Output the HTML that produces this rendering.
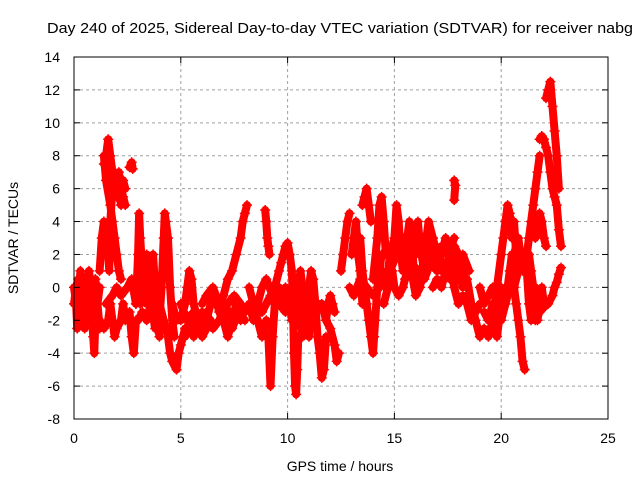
<!DOCTYPE html>
<html><head><meta charset="utf-8"><style>
body{margin:0;background:#fff}
svg text{font-family:"Liberation Sans",sans-serif;font-size:14px;fill:#000}
</style></head><body>
<svg id="chart" width="640" height="480" viewBox="0 0 640 480" xmlns="http://www.w3.org/2000/svg">
<rect width="640" height="480" fill="#fff"/>
<text x="340" y="33" text-anchor="middle" textLength="586" lengthAdjust="spacingAndGlyphs" style="font-size:14.5px">Day 240 of 2025, Sidereal Day-to-day VTEC variation (SDTVAR) for receiver nabg</text>
<text x="340" y="471" text-anchor="middle">GPS time / hours</text>
<text transform="translate(18,238) rotate(-90)" text-anchor="middle">SDTVAR / TECUs</text>
<g id="grid"></g>
<g id="marks"></g>
<rect x="74" y="57" width="534" height="362" fill="none" stroke="#000" stroke-width="1"/>
<g id="ticks"></g>
</svg>
<script>
const xTicks=[0,5,10,15,20,25];
const yTicks=[-8,-6,-4,-2,0,2,4,6,8,10,12,14];
const arcA=[[0,0],[0.1,-1],[0.15,-2.5],[0.2,-1],[0.3,1],[0.35,0.5],[0.4,-1],[0.5,-2],[0.6,-1.5],[0.7,0],[0.8,-1],[0.9,-3],[0.95,-4],[1.0,-2],[1.1,-1],[1.2,0]];
const arcB=[[0,-1],[0.1,0],[0.2,0.5],[0.3,-0.5],[0.4,-2],[0.5,-2.5],[0.6,0],[0.7,1],[0.8,0],[0.9,-1],[1.0,0.5],[1.1,-1],[1.2,-2.5]];
const arcC=[[1.2,1],[1.3,3],[1.4,4],[1.5,3],[1.6,2],[1.65,1],[1.7,4],[1.8,6]];
const arcD=[[1.4,7.5],[1.5,8],[1.6,9],[1.7,8],[1.8,7],[1.9,6],[2.0,6.5],[2.1,7],[2.2,6],[2.3,5.5],[2.4,5]];
const arcE=[[1.4,8],[1.5,6.5],[1.7,5],[1.8,4],[1.9,3],[2.0,2],[2.1,1],[2.2,0.5]];
const arcF=[[2.6,7.3],[2.7,7.6],[2.75,7.2]];
const arcG=[[1.2,-2],[1.4,-2.5],[1.6,-2],[1.7,-1],[1.8,-2],[1.9,-3],[2.0,-2.5],[2.2,-2],[2.3,-1],[2.4,-2],[2.6,-1.5],[2.7,-3],[2.8,-4],[2.9,-2]];
const arcH=[[1.5,-1],[1.8,-0.5],[2.0,0],[2.2,-0.5],[2.5,0],[2.7,0.5],[2.9,-1]];
const arcI=[[2.9,-1],[3.0,2],[3.05,4.5],[3.1,3],[3.2,1],[3.3,0],[3.4,-1],[3.5,0],[3.6,1],[3.7,0],[3.8,-1],[3.9,-2],[4.0,-3]];
const arcJ=[[3.1,-1],[3.2,0],[3.3,1],[3.4,2],[3.5,1.5],[3.6,1],[3.7,2],[3.8,0],[3.9,-1],[4.0,-2],[4.1,0],[4.2,3],[4.25,4.5],[4.3,4],[4.4,3],[4.5,0],[4.6,-2],[4.7,-3]];
const arcK=[[3.0,-2],[3.2,-1.5],[3.4,-2],[3.6,-1],[3.8,-2.5],[4.0,-1],[4.2,-2],[4.4,-3],[4.5,-4],[4.6,-4.5],[4.8,-5],[4.9,-4],[5.0,-3.5],[5.1,-3],[5.2,-2.5]];
const arcL=[[4.6,-1],[4.8,-2],[5.0,-2],[5.2,-1],[5.3,0],[5.4,1],[5.5,0.5],[5.6,-1],[5.8,-2],[6.0,-3],[6.2,-2.5],[6.4,-2]];
const arcM=[[5.2,-3],[5.4,-2],[5.6,-3],[5.8,-2.5],[6.0,-1.5],[6.2,-2],[6.4,-1],[6.6,-0.5],[6.8,-1.5],[7.0,-2],[7.2,-3],[7.4,-2],[7.6,-1],[7.8,-2]];
const arcN=[[6.0,-1],[6.2,-0.5],[6.5,0],[6.8,-1],[7.0,-0.5],[7.2,0.5],[7.4,1],[7.6,2],[7.8,3],[7.9,4],[8.0,4.5],[8.1,5]];
const arcO=[[7.2,-1],[7.5,-0.5],[7.8,-1],[8.0,-1.5],[8.2,-1],[8.4,-2],[8.6,-1],[8.8,-1.5],[9.0,-1],[9.2,-0.5]];
const arcP=[[8.2,0],[8.4,-1],[8.6,-2],[8.8,-3],[9.0,-2],[9.1,-3],[9.2,-6],[9.3,-3],[9.4,-1],[9.5,-0.5],[9.6,0]];
const arcQ=[[8.95,4.7],[9.0,4],[9.05,3],[9.1,2.5],[9.15,2]];
const arcR=[[9.4,0],[9.6,1],[9.7,1.5],[9.8,2],[9.9,2.5],[10.0,2.7],[10.1,2],[10.2,1],[10.25,-1],[10.3,-4],[10.35,-6],[10.4,-6.5],[10.45,-5],[10.5,-3]];
const arcS=[[9.8,-1],[9.9,0],[10.0,-0.5],[10.1,-1],[10.2,-2],[10.4,-1],[10.5,0],[10.6,1],[10.7,0],[10.8,-1],[10.9,-2],[11.0,-3],[11.1,-1]];
const arcT=[[10.5,-1],[10.6,-2],[10.7,-3],[10.8,-2],[10.9,-1],[11.0,0],[11.1,1],[11.2,0.5],[11.3,-1],[11.4,-3],[11.5,-4],[11.6,-5.5],[11.7,-5],[11.8,-3]];
const arcU=[[11.2,-2],[11.4,-1],[11.6,-1],[11.8,-2],[11.9,-1],[12.0,-0.5],[12.1,-1],[12.2,-1.5]];
const arcV=[[11.8,-2],[12.0,-2.5],[12.2,-3.5],[12.3,-4.5],[12.4,-4]];
const arcW=[[12.5,1],[12.6,2],[12.7,3],[12.8,4],[12.9,4.5]];
const arcX=[[13.0,2],[13.1,3],[13.2,4],[13.3,2],[13.4,1],[13.5,-1]];
const arcY=[[13.5,5],[13.6,5.5],[13.7,6],[13.8,5],[13.9,4]];
const arcZ=[[13.4,3],[13.5,1],[13.6,0],[13.7,-1],[13.8,-2],[13.9,-3],[14.0,-4],[14.05,-3],[14.1,-2],[14.2,0],[14.3,1],[14.4,2]];
const arcAA=[[14.0,0.5],[14.2,3],[14.3,5],[14.4,5.5],[14.5,4],[14.6,2]];
const arcBB=[[14.4,1],[14.6,0],[14.8,2],[15.0,3],[15.1,5],[15.2,4],[15.3,2],[15.4,1],[15.5,2],[15.6,3],[15.7,4],[15.8,3.5],[15.9,1],[16.0,0]];
const arcCC=[[14.5,-1],[14.7,0],[14.9,1],[15.0,0],[15.2,-0.5],[15.4,0],[15.6,1],[15.8,2],[16.0,3],[16.1,4],[16.2,2.5],[16.4,1],[16.6,2],[16.8,3],[17.0,2],[17.2,1]];
const arcDD=[[15.8,1],[16.0,-0.5],[16.2,0],[16.4,2],[16.6,4],[16.8,3],[17.0,1],[17.2,2],[17.4,3],[17.6,1.5],[17.8,2.5],[18.0,2],[18.2,1],[18.4,0]];
const arcEE=[[16.8,0],[17.0,0.5],[17.2,0],[17.4,1],[17.6,2],[17.8,0],[18.0,-1],[18.2,-0.5],[18.4,-1],[18.6,-2],[18.8,-1.5],[19.0,-1]];
const arcFF=[[18.0,1],[18.2,0],[18.4,0.5],[18.6,-1],[18.8,-2],[19.0,-3],[19.2,-2.5],[19.4,-3],[19.6,-2],[19.8,-3],[20.0,-1]];
const arcGG=[[19.0,0],[19.2,-1],[19.4,-0.5],[19.6,0],[19.8,-1],[20.0,0]];
const arcHH=[[19.6,-2],[19.8,0],[20.0,2],[20.1,3],[20.2,4],[20.3,5],[20.4,4.5],[20.5,3],[20.6,4],[20.7,2]];
const arcII=[[20.0,-2],[20.2,-1],[20.4,1],[20.5,2],[20.6,0],[20.7,-1],[20.8,-2],[20.9,-3],[21.0,-4.5],[21.1,-5]];
const arcJJ=[[20.6,0],[20.8,1],[21.0,2],[21.2,1],[21.3,-1],[21.4,-2],[21.5,-1],[21.6,0],[21.7,-1.5]];
const arcKK=[[21.2,2],[21.3,3],[21.4,4],[21.5,5],[21.6,6],[21.7,7],[21.8,8]];
const arcLL=[[21.6,3],[21.8,4.5],[21.9,4],[22.0,3],[22.1,2.5]];
const arcMM=[[21.8,9],[21.9,9.2],[22.0,9],[22.1,8.5],[22.2,8],[22.3,7],[22.4,6],[22.5,5.5],[22.6,5],[22.7,3.5],[22.8,2.5]];
const arcNN=[[22.1,11.5],[22.2,12],[22.3,12.5],[22.4,11],[22.5,9.5],[22.6,8],[22.7,6]];
const arcOO=[[21.6,-2],[21.8,-1.5],[22.0,-1.2],[22.2,-1],[22.4,-0.5],[22.5,0],[22.6,0.3],[22.7,0.8],[22.8,1.2]];
const arcPP=[[21.3,2],[21.4,1],[21.5,0],[21.6,-1],[21.7,-2],[21.8,-1],[21.9,0],[22.0,-1]];
const arcQQ=[[17.8,6.5],[17.85,6.2],[17.8,5.3]];
const arcRR=[[1.7,6],[1.8,5.5],[1.9,7],[2.0,5.5],[2.1,6],[2.2,5],[2.3,6.5],[2.4,6]];
const arcSS=[[5.0,-1],[5.3,-2],[5.6,-1.5],[5.9,-2.5],[6.2,-1.5],[6.5,-2.5],[6.8,-2],[7.1,-1],[7.4,-2.5],[7.7,-1.5],[8.0,-2]];
const arcTT=[[15.5,0.5],[15.8,1.5],[16.1,1],[16.4,0.5],[16.7,1.5],[17.0,1],[17.3,1.5],[17.6,0.5],[17.9,1.5],[18.2,2],[18.5,1]];
const arcUU=[[14.8,1],[15.1,2],[15.4,3],[15.7,2],[16.0,2],[16.3,3],[16.6,2.5],[16.9,2],[17.2,2.5],[17.5,2],[17.8,3]];
const arcVV=[[8.6,-1],[8.8,0],[9.0,0.5],[9.3,-0.5],[9.6,-1],[9.9,-1.5]];
const arcWW=[[12.9,0],[13.1,-0.5],[13.4,0.5],[13.7,0],[14.0,-0.5],[14.3,0]];
const arcXX=[[19.2,-1.5],[19.4,-2],[19.6,-1],[19.8,-2],[20.0,-1.5],[20.2,-1],[20.4,0],[20.6,2],[20.8,3],[21.0,1]];
const arcs=[arcA,arcB,arcC,arcD,arcE,arcF,arcG,arcH,arcI,arcJ,arcK,arcL,arcM,arcN,arcO,arcP,arcQ,arcR,arcS,arcT,arcU,arcV,arcW,arcX,arcY,arcZ,arcAA,arcBB,arcCC,arcDD,arcEE,arcFF,arcGG,arcHH,arcII,arcJJ,arcKK,arcLL,arcMM,arcNN,arcOO,arcPP,arcQQ,arcRR,arcSS,arcTT,arcUU,arcVV,arcWW,arcXX];

const X0=74,X1=608,Y0=419,Y1=57;
const xs=t=>X0+(t-0)/(25-0)*(X1-X0);
const ys=v=>Y0-(v+8)/(14+8)*(Y0-Y1);
const NS="http://www.w3.org/2000/svg";
const grid=document.getElementById('grid'),ticks=document.getElementById('ticks'),marks=document.getElementById('marks');
function mk(tag,attrs,parent){const e=document.createElementNS(NS,tag);for(const k in attrs)e.setAttribute(k,attrs[k]);parent.appendChild(e);return e;}
xTicks.forEach(t=>{const x=xs(t);
 if(t>0&&t<25){const g=mk('line',{x1:x,x2:x,y1:Y1,y2:Y0,stroke:'#a0a0a0','stroke-dasharray':'3,3'},grid);
 
 }
 mk('line',{x1:x,x2:x,y1:Y0,y2:Y0-6,stroke:'#000'},ticks);
 mk('line',{x1:x,x2:x,y1:Y1,y2:Y1+6,stroke:'#000'},ticks);
 const l=mk('text',{x:x,y:Y0+24,'text-anchor':'middle'},ticks);l.textContent=t;
 
 });
yTicks.forEach(v=>{const y=ys(v);
 if(v>-8&&v<14){const g=mk('line',{x1:X0,x2:X1,y1:y,y2:y,stroke:'#a0a0a0','stroke-dasharray':'3,3'},grid);
 
 }
 mk('line',{x1:X0,x2:X0+6,y1:y,y2:y,stroke:'#000'},ticks);
 mk('line',{x1:X1,x2:X1-6,y1:y,y2:y,stroke:'#000'},ticks);
 const l=mk('text',{x:X0-14,y:y+5,'text-anchor':'end'},ticks);l.textContent=v;
 
 });
arcs.forEach(arc=>{
 const pts=arc.map(p=>xs(p[0])+','+ys(p[1])).join(' ');
 const pl=mk('polyline',{points:pts,fill:'none',stroke:'#ff0000','stroke-width':8,'stroke-linejoin':'round','stroke-linecap':'round'},marks);
 
 
 arc.forEach(p=>{const x=xs(p[0]),y=ys(p[1]);
  const m=mk('path',{d:`M${x-5},${y}H${x+5}M${x},${y-5}V${y+5}`,stroke:'#ff0000','stroke-width':1.5},marks);
  
  });
});
</script>
</body></html>
